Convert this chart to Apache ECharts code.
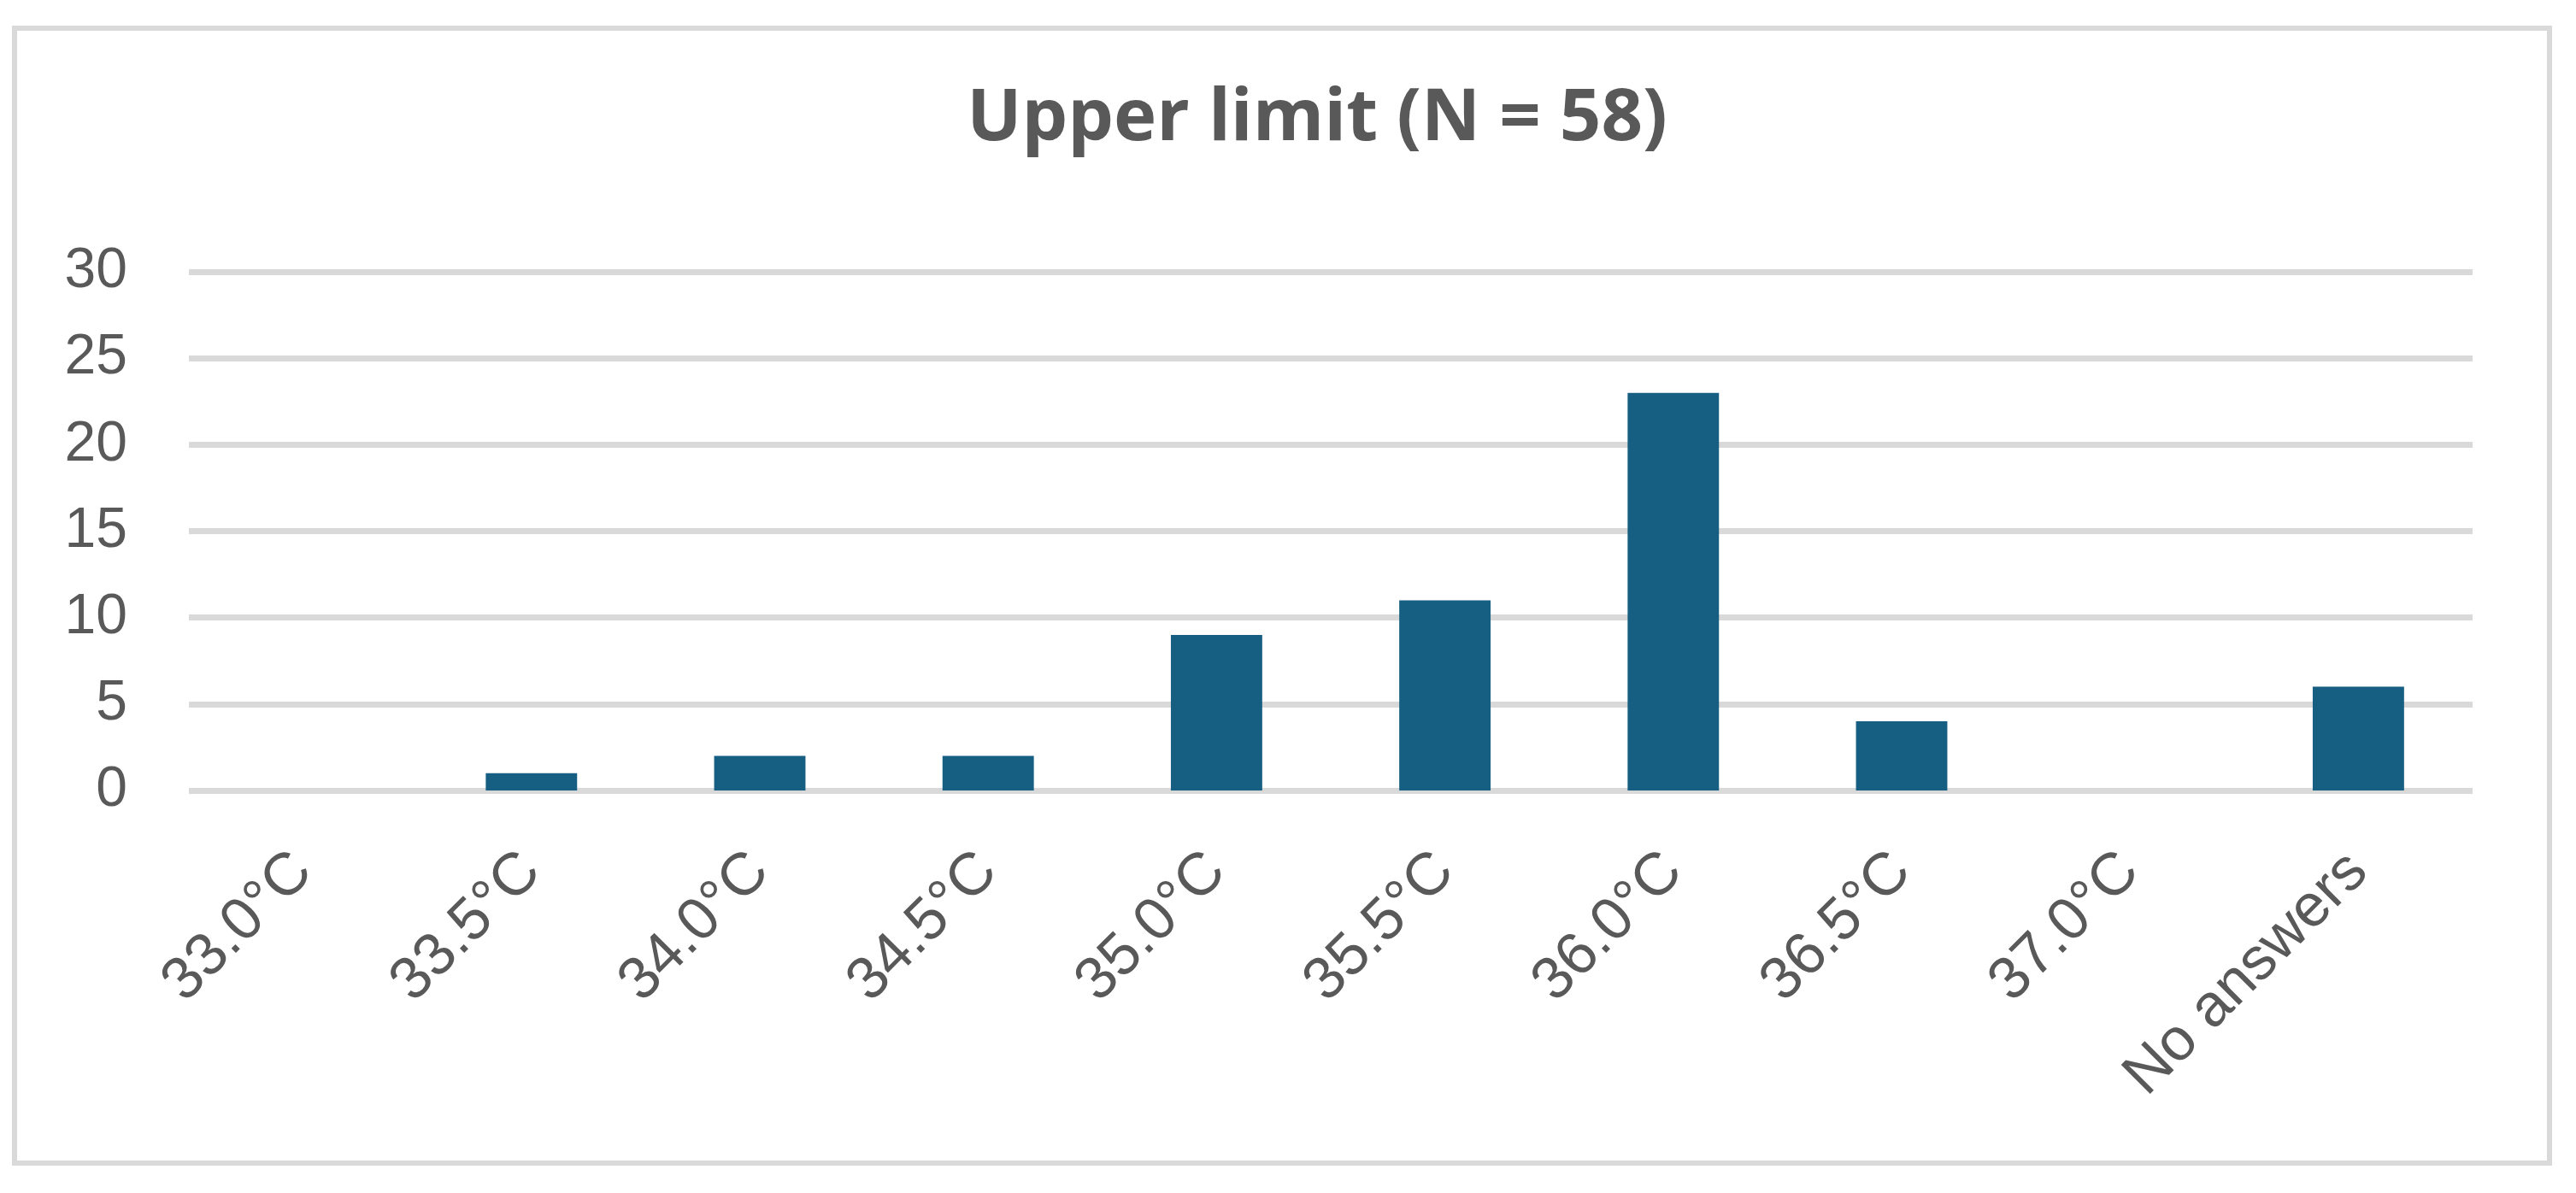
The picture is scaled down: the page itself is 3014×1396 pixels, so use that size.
<!DOCTYPE html>
<html>
<head>
<meta charset="utf-8">
<script src="https://cdn.jsdelivr.net/npm/echarts@6/dist/echarts.min.js"></script>
<style>
  html, body { margin: 0; padding: 0; background: #ffffff; }
  #chart { width: 3014px; height: 1396px; }
</style>
</head>
<body>
<div id="chart"></div>
<script>
const titleText = 'Upper limit (N = 58)';
const categories = ['33.0°C', '33.5°C', '34.0°C', '34.5°C', '35.0°C', '35.5°C', '36.0°C', '36.5°C', '37.0°C', 'No answers'];
const counts = [0, 1, 2, 2, 9, 11, 23, 4, 0, 6];
const yMin = 0, yMax = 30, yInterval = 5;

const chart = echarts.init(document.getElementById('chart'), null, { renderer: 'canvas' });
chart.setOption({
  backgroundColor: '#ffffff',
  animation: false,
  graphic: [{
    type: 'rect',
    shape: { x: 17, y: 33, width: 2966, height: 1328 },
    style: { fill: 'none', stroke: '#D9D9D9', lineWidth: 6 },
    silent: true
  }],
  title: {
    text: titleText,
    left: 1536,
    top: 92,
    textAlign: 'center',
    textStyle: {
      fontFamily: '"Open Sans", sans-serif',
      fontWeight: 'bold',
      fontSize: 85,
      color: '#595959'
    }
  },
  grid: { left: 221, right: 121, top: 318, bottom: 471, containLabel: false },
  xAxis: {
    type: 'category',
    data: categories,
    axisLine: { show: false },
    axisTick: { show: false },
    axisLabel: {
      rotate: 45,
      margin: 84,
      interval: 0,
      fontFamily: '"Liberation Sans", Arial, sans-serif',
      fontSize: 70,
      color: '#595959'
    }
  },
  yAxis: {
    type: 'value',
    min: yMin,
    max: yMax,
    interval: yInterval,
    axisLine: { show: false },
    axisTick: { show: false },
    axisLabel: {
      margin: 72,
      fontFamily: '"Liberation Sans", Arial, sans-serif',
      fontSize: 66,
      color: '#595959'
    },
    splitLine: { lineStyle: { color: '#D9D9D9', width: 7 } }
  },
  series: [{
    type: 'bar',
    data: counts,
    barWidth: '40%',
    itemStyle: { color: '#175F82' },
    z: 3
  }]
});
</script>
</body>
</html>
